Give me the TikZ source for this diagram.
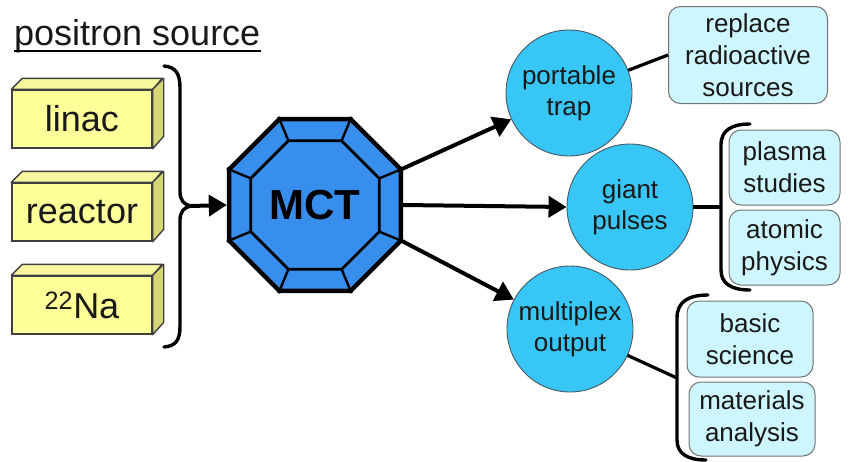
\documentclass[tikz,border=0pt]{standalone}
\usepackage{fontspec}
\setmainfont{Liberation Sans}
\usetikzlibrary{shapes.geometric,arrows.meta}
\definecolor{octblue}{RGB}{56,142,236}
\definecolor{bubcyan}{RGB}{56,198,246}
\definecolor{appfill}{RGB}{206,246,255}
\definecolor{srcfront}{RGB}{255,255,153}
\definecolor{srctop}{RGB}{248,248,160}
\definecolor{srcside}{RGB}{214,214,118}
\definecolor{txt}{RGB}{25,25,25}
\tikzset{
  srcbox/.style={draw=black!75, line width=1.4pt, fill=srcfront, minimum width=140pt, minimum height=58pt, inner sep=0pt, font=\fontsize{36}{40}\selectfont, text=txt},
  facetop/.style={draw=black!75, line width=1.4pt, fill=srctop, line join=round},
  faceside/.style={draw=black!75, line width=1.4pt, fill=srcside, line join=round},
  bubble/.style={circle, draw=black!70!cyan, line width=0.9pt, fill=bubcyan, minimum size=126pt, inner sep=0pt, align=center, font=\fontsize{26}{31}\selectfont, text=txt},
  appbox/.style={draw=black!55, line width=1pt, fill=appfill, rounded corners=12pt, inner sep=0pt, align=center, font=\fontsize{26}{32}\selectfont, text=txt},
  arr/.style={line width=4pt, -{Triangle[length=18pt,width=21pt]}},
  conn/.style={line width=3.2pt},
  brace/.style={line width=3.4pt, line cap=round},
}
\begin{document}
\begin{tikzpicture}[x=1pt,y=-1pt]
\useasboundingbox (0,0) rectangle (848,461);
% title
\node[anchor=base west, inner sep=0pt, font=\fontsize{36}{40}\selectfont, text=txt] (title) at (14,45) {positron source};
\draw[line width=2.6pt] ([yshift=-6pt]title.base west) -- ([yshift=-6pt]title.base east);
% source boxes
\foreach \n/\y/\t in {linac/119/linac, reactor/212/reactor, na/305/\textsuperscript{22}Na}{
  \node[srcbox] (\n) at (82,\y) {\t};
  \draw[facetop] (\n.north west) -- ++(11,-11) -- ++(140,0) -- (\n.north east) -- cycle;
  \draw[faceside] (\n.north east) -- ++(11,-11) -- ++(0,58) -- (\n.south east) -- cycle;
}
% left brace
\draw[brace] (164,66) .. controls (176,67) and (180,74) .. (180,88) -- (180,192)
  .. controls (180,200) and (184,205) .. (191,206)
  .. controls (184,207) and (180,212) .. (180,220) -- (180,326)
  .. controls (180,340) and (176,346) .. (164,347);
\coordinate (bt) at (191,206);
% MCT octagon
\node[regular polygon, regular polygon sides=8, minimum size=186pt, inner sep=0pt, draw=black, line width=4.5pt, fill=octblue, line join=miter] (mct) at (315,205) {};
\node[regular polygon, regular polygon sides=8, minimum size=138.5pt, inner sep=0pt] (inn) at (315,205) {};
\foreach \i in {1,...,8}{\draw[line width=2.4pt] (mct.corner \i) -- (inn.corner \i);}
\node[regular polygon, regular polygon sides=8, minimum size=138.5pt, inner sep=0pt, draw=black, line width=2.8pt, font=\bfseries\fontsize{42}{46}\selectfont, text=black] (mcttext) at (315,205) {MCT};
\draw[arr] (bt) -- (mct.west);
% bubbles
\node[bubble] (pt) at (569,93) {portable\\trap};
\node[bubble] (gp) at (630,207) {giant\\pulses};
\node[bubble] (mo) at (570,329) {multiplex\\output};
\coordinate (o1) at (402,169);
\coordinate (o3) at (402,241);
\draw[arr] (o1) -- (pt);
\draw[arr] (mct.east) -- (gp.west);
\draw[arr] (o3) -- (mo);
% application boxes
\node[appbox, minimum width=159pt, minimum height=97pt] (rep) at (748,55) {replace\\radioactive\\sources};
\node[appbox, minimum width=111pt, minimum height=75pt] (pla) at (784.5,167.5) {plasma\\studies};
\node[appbox, minimum width=111pt, minimum height=75pt] (ato) at (784.5,247.5) {atomic\\physics};
\node[appbox, minimum width=126pt, minimum height=76pt] (bas) at (750,339) {basic\\science};
\node[appbox, minimum width=126pt, minimum height=74pt] (mat) at (752,419) {materials\\analysis};
% connectors to applications
\draw[conn] (pt) -- (rep.west);
\draw[brace] (750,124) .. controls (732,124) and (721,130) .. (721,145) -- (721,270)
  .. controls (721,284) and (732,290) .. (750,290);
\coordinate (b1) at (721,207);
\draw[conn] (gp.east) -- (b1);
\draw[brace] (708,295) .. controls (688,295) and (677,302) .. (677,318) -- (677,440)
  .. controls (677,454) and (688,460) .. (706,460);
\coordinate (b2) at (677,378);
\draw[conn] (mo) -- (b2);
\end{tikzpicture}
\end{document}
